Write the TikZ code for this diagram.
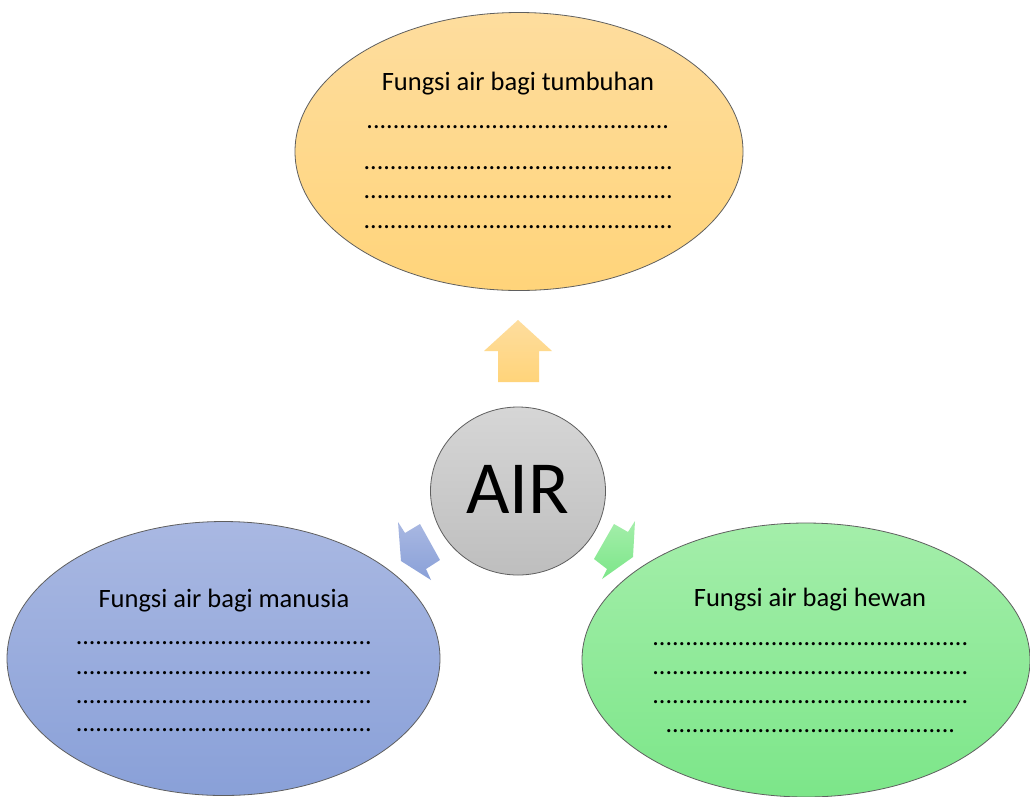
\documentclass[tikz,border=0pt]{standalone}
\usepackage{fontspec}
\setmainfont{Carlito}
\usetikzlibrary{shapes.geometric}
\definecolor{orT}{RGB}{254,221,158}
\definecolor{orB}{RGB}{255,212,122}
\definecolor{blT}{RGB}{169,184,226}
\definecolor{blB}{RGB}{137,160,216}
\definecolor{grT}{RGB}{164,238,170}
\definecolor{grB}{RGB}{124,230,137}
\definecolor{gyT}{RGB}{214,214,214}
\definecolor{gyB}{RGB}{190,190,190}
\definecolor{edge}{RGB}{95,95,95}
\tikzset{
  bubble/.style={ellipse, draw=edge, line width=0.8pt, inner sep=0pt, shading=axis},
  titletxt/.style={anchor=base, inner sep=0pt, font=\fontsize{26.5}{30}\selectfont},
  dotstxt/.style={anchor=base, inner sep=0pt, font=\fontsize{26.1}{30}\selectfont},
  blockarrow/.style={draw=none, shading=axis}
}
\newcommand{\dotsn}[1]{\foreach \k in {1,...,#1}{.}}
\begin{document}
\begin{tikzpicture}[x=1pt,y=-1pt]
\useasboundingbox (0,0) rectangle (1030,796);
\fill[white] (0,0) rectangle (1030,796);
\clip (0,0) rectangle (1030,796);

% bubbles
\node[bubble, top color=orT, bottom color=orB, minimum width=448pt, minimum height=278pt] (tum) at (519,151.5) {};
\node[bubble, top color=blT, bottom color=blB, minimum width=433pt, minimum height=274pt] (man) at (223.5,658.5) {};
\node[bubble, top color=grT, bottom color=grB, minimum width=448pt, minimum height=274pt] (hew) at (806,660) {};
\node[bubble, top color=gyT, bottom color=gyB, minimum width=175pt, minimum height=168pt] (air) at (518,491) {};
\node[font=\fontsize{75}{80}\selectfont, inner sep=0pt, anchor=base] (airT) at (518,513) {AIR};

% block arrows
\shade[blockarrow, top color=orT, bottom color=orB] (518,320) -- (552,351) -- (539,351) -- (539,382) -- (498,382) -- (498,351) -- (484,351) -- cycle;
\shade[blockarrow, top color=blT, bottom color=blB] (398,522) -- (405,533) -- (420,524) -- (440,560) -- (426,569) -- (431,580) -- (401,561) -- cycle;
\shade[blockarrow, top color=grT, bottom color=grB] (635,521) -- (628,532) -- (614,524) -- (594,559) -- (607,569) -- (602,579) -- (633,557) -- cycle;

% tumbuhan
\node[titletxt] (tumT) at (518,90) {Fungsi air bagi tumbuhan};
\node[dotstxt] (tumD1) at (518,128.5) {\dotsn{46}};
\node[dotstxt] (tumD2) at (518.5,169.5) {\dotsn{47}};
\node[dotstxt] (tumD3) at (518.5,198.5) {\dotsn{47}};
\node[dotstxt] (tumD4) at (518.5,228.5) {\dotsn{47}};

% manusia
\node[titletxt] (manT) at (224,607) {Fungsi air bagi manusia};
\node[dotstxt] (manD1) at (224,644.5) {\dotsn{45}};
\node[dotstxt] (manD2) at (224,674.5) {\dotsn{45}};
\node[dotstxt] (manD3) at (224,703.5) {\dotsn{45}};
\node[dotstxt] (manD4) at (224,731.5) {\dotsn{45}};

% hewan
\node[titletxt] (hewT) at (810,606) {Fungsi air bagi hewan};
\node[dotstxt] (hewD1) at (810.5,645.5) {\dotsn{48}};
\node[dotstxt] (hewD2) at (810.5,674.5) {\dotsn{48}};
\node[dotstxt] (hewD3) at (810.5,703.5) {\dotsn{48}};
\node[dotstxt] (hewD4) at (810.5,732.5) {\dotsn{44}};
\end{tikzpicture}
\end{document}
